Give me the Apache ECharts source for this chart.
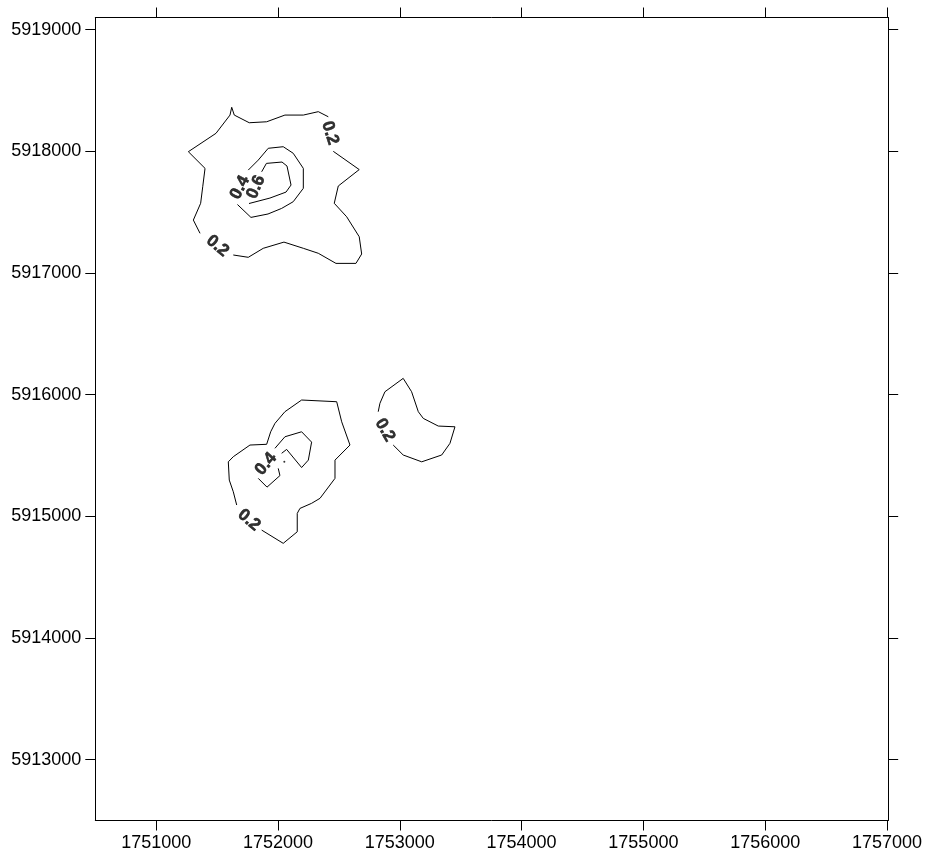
<!DOCTYPE html>
<html>
<head>
<meta charset="utf-8">
<script src="https://cdn.jsdelivr.net/npm/echarts@6/dist/echarts.min.js"></script>
<style>
html,body{margin:0;padding:0;background:#fff}
#c{width:925px;height:854px}
</style>
</head>
<body>
<div id="c"></div>
<script>
// Axis ticks (labels)
const xTicks = [1751000, 1752000, 1753000, 1754000, 1755000, 1756000, 1757000];
const yTicks = [5913000, 5914000, 5915000, 5916000, 5917000, 5918000, 5919000];
const xExtent = [1750500, 1757010];
const yExtent = [5912500, 5919100];

// Contour level 0.2, northern cluster (two pieces broken by labels)
const north02a = [
  [1752454, 5918000], [1752667, 5917850], [1752495, 5917715], [1752462, 5917573],
  [1752564, 5917462], [1752667, 5917298], [1752687, 5917156], [1752640, 5917079],
  [1752476, 5917079], [1752331, 5917162], [1752208, 5917203], [1752049, 5917254],
  [1751879, 5917203], [1751756, 5917129], [1751633, 5917148]
];
const north02b = [
  [1751360, 5917326], [1751305, 5917435], [1751365, 5917573], [1751382, 5917709],
  [1751401, 5917860], [1751264, 5917997], [1751491, 5918148], [1751606, 5918298],
  [1751620, 5918362], [1751641, 5918298], [1751764, 5918235], [1751907, 5918243],
  [1752057, 5918298], [1752208, 5918298], [1752331, 5918326], [1752413, 5918284]
];
// Contour level 0.4, northern cluster
const north04 = [
  [1751756, 5917846], [1751838, 5917928], [1751920, 5918025], [1752043, 5918038],
  [1752125, 5917984], [1752208, 5917860], [1752208, 5917696], [1752125, 5917586],
  [1752030, 5917531], [1751918, 5917485], [1751778, 5917457], [1751667, 5917563]
];
// Contour level 0.6, northern cluster
const north06 = [
  [1751866, 5917832], [1751905, 5917901], [1752033, 5917912], [1752074, 5917879],
  [1752107, 5917723], [1752066, 5917665], [1751934, 5917616], [1751762, 5917571]
];
// Contour level 0.2, southern cluster
const south02 = [
  [1751866, 5914887], [1752043, 5914778], [1752158, 5914873], [1752158, 5915024],
  [1752180, 5915065], [1752276, 5915107], [1752345, 5915148], [1752468, 5915312],
  [1752468, 5915462], [1752591, 5915586], [1752523, 5915777], [1752482, 5915942],
  [1752194, 5915956], [1752057, 5915860], [1751975, 5915764], [1751940, 5915695],
  [1751907, 5915592], [1751770, 5915586], [1751633, 5915490], [1751592, 5915448],
  [1751600, 5915298], [1751633, 5915202], [1751661, 5915093]
];
// Contour level 0.4, southern cluster (two pieces)
const south04a = [
  [1751975, 5915559], [1752057, 5915654], [1752194, 5915695], [1752276, 5915610],
  [1752249, 5915462], [1752194, 5915401], [1752071, 5915550], [1752030, 5915518]
];
const south04b = [
  [1752002, 5915394], [1752016, 5915335], [1751910, 5915240], [1751838, 5915312]
];
// Tiny peak mark inside southern 0.4 contour
const southPeak = [[1752052, 5915448]];
// Contour level 0.2, eastern island
const east02 = [
  [1752823, 5915860], [1752837, 5915929], [1752878, 5916024], [1753028, 5916134],
  [1753097, 5916024], [1753152, 5915860], [1753193, 5915805], [1753316, 5915742],
  [1753453, 5915736], [1753412, 5915600], [1753344, 5915504], [1753180, 5915448],
  [1753028, 5915504], [1752946, 5915586]
];

// Contour labels
const labelTexts = ['0.2', '0.2', '0.4', '0.6', '0.2', '0.4', '0.2'];
const labelPoints = [
  [1752427, 5918150], [1751503, 5917222], [1751688, 5917702], [1751819, 5917707],
  [1751762, 5914969], [1751901, 5915430], [1752878, 5915709]
];
const labelAngles = [-72, -40, 63, 67, -40, 50, -60];

const FONT = "'Liberation Sans', Arial, Helvetica, sans-serif";
const lineStyle = { color: '#000', width: 1 };

function contour(data) {
  return {
    type: 'line', data: data, symbol: 'none', showSymbol: false,
    lineStyle: lineStyle, silent: true, animation: false,
    xAxisIndex: 0, yAxisIndex: 0
  };
}

const contours = [north02a, north02b, north04, north06, south02, south04a, south04b, east02];
const series = contours.map(contour);

series.push({
  type: 'scatter', data: southPeak, symbol: 'circle', symbolSize: 2,
  itemStyle: { color: '#000' }, silent: true, animation: false
});

series.push({
  type: 'scatter', symbolSize: 0, silent: true, animation: false,
  itemStyle: { color: 'transparent' },
  data: labelPoints.map((p, i) => ({
    value: p,
    label: { formatter: labelTexts[i], rotate: labelAngles[i] }
  })),
  label: {
    show: true, position: 'inside', color: '#000',
    fontFamily: FONT, fontSize: 17, fontWeight: 'bold',
    textBorderColor: '#000', textBorderWidth: 0.6,
    align: 'center', verticalAlign: 'middle'
  }
});

const axisLine = { show: true, lineStyle: { color: '#000', width: 1 } };
const tickStyle = { lineStyle: { color: '#000', width: 1 } };
const labelStyle = { color: '#000', fontFamily: FONT, fontSize: 18 };

const option = {
  backgroundColor: '#fff',
  animation: false,
  grid: { left: 95.3, top: 17.5, width: 793, height: 803, containLabel: false },
  xAxis: [
    {
      type: 'value', position: 'bottom', min: xExtent[0], max: xExtent[1],
      axisLine: axisLine, splitLine: { show: false },
      axisTick: Object.assign({ show: true, inside: false, length: 10, customValues: xTicks }, tickStyle),
      axisLabel: Object.assign({ show: true, margin: 14, customValues: xTicks, formatter: v => String(v) }, labelStyle)
    },
    {
      type: 'value', position: 'top', min: xExtent[0], max: xExtent[1],
      axisLine: axisLine, splitLine: { show: false },
      axisTick: Object.assign({ show: true, inside: false, length: 10, customValues: xTicks }, tickStyle),
      axisLabel: { show: false }
    }
  ],
  yAxis: [
    {
      type: 'value', position: 'left', min: yExtent[0], max: yExtent[1],
      axisLine: axisLine, splitLine: { show: false },
      axisTick: Object.assign({ show: true, inside: false, length: 10, customValues: yTicks }, tickStyle),
      axisLabel: Object.assign({ show: true, margin: 14, customValues: yTicks, formatter: v => String(v) }, labelStyle)
    },
    {
      type: 'value', position: 'right', min: yExtent[0], max: yExtent[1],
      axisLine: axisLine, splitLine: { show: false },
      axisTick: Object.assign({ show: true, inside: false, length: 10, customValues: yTicks }, tickStyle),
      axisLabel: { show: false }
    }
  ],
  series: series
};

const chart = echarts.init(document.getElementById('c'), null, { renderer: 'canvas' });
chart.setOption(option);
</script>
</body>
</html>
